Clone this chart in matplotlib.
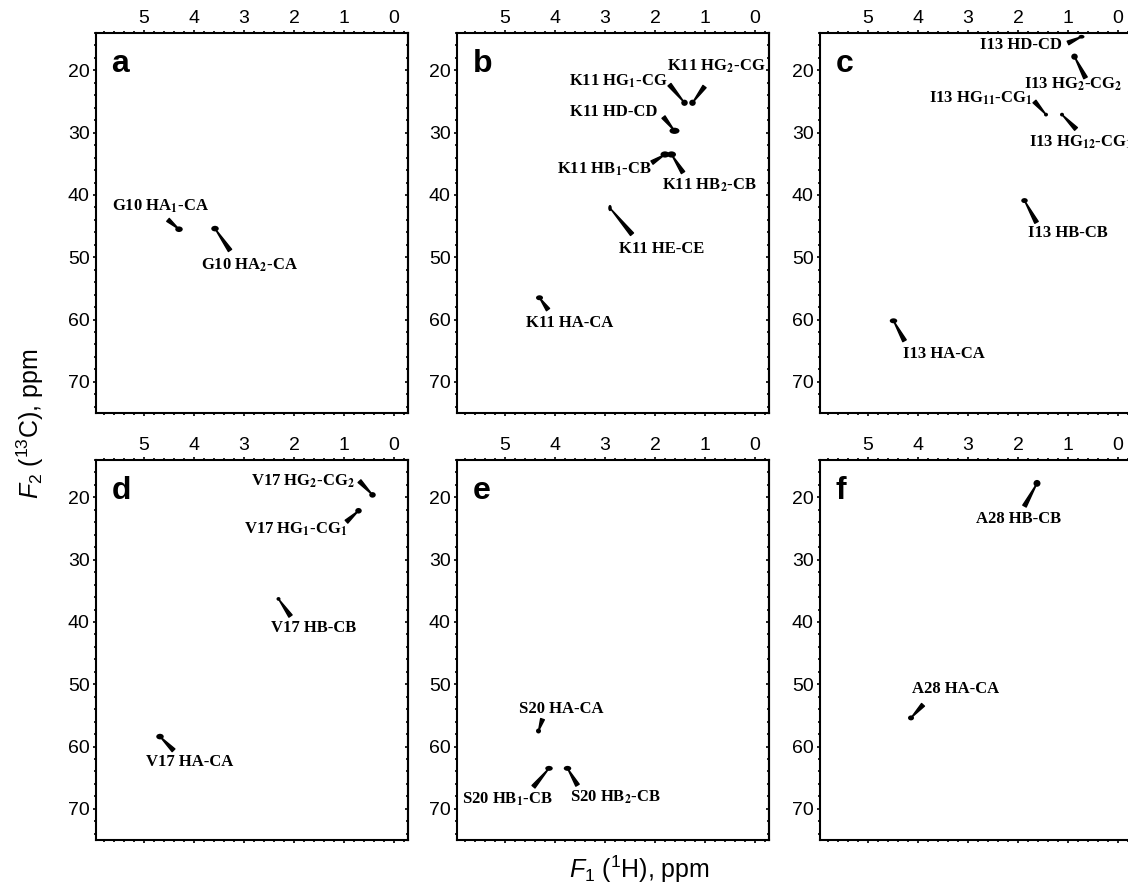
import matplotlib.pyplot as plt
from matplotlib.patches import Ellipse
from matplotlib.ticker import MultipleLocator

# Cross peaks: 1H shift (ppm), 13C shift (ppm)
G10_LABELS = [r"G10 HA$_\mathbf{1}$-CA", r"G10 HA$_\mathbf{2}$-CA"]
G10_H = [4.30, 3.58]
G10_C = [45.5, 45.4]

K11_LABELS = [r"K11 HG$_\mathbf{1}$-CG", r"K11 HG$_\mathbf{2}$-CG", "K11 HD-CD",
              r"K11 HB$_\mathbf{1}$-CB", r"K11 HB$_\mathbf{2}$-CB", "K11 HE-CE", "K11 HA-CA"]
K11_H = [1.41, 1.25, 1.61, 1.80, 1.67, 2.90, 4.31]
K11_C = [25.2, 25.2, 29.7, 33.5, 33.5, 42.1, 56.5]

I13_LABELS = ["I13 HD-CD", r"I13 HG$_\mathbf{2}$-CG$_\mathbf{2}$",
              r"I13 HG$_\mathbf{11}$-CG$_\mathbf{1}$", r"I13 HG$_\mathbf{12}$-CG$_\mathbf{1}$",
              "I13 HB-CB", "I13 HA-CA"]
I13_H = [0.73, 0.87, 1.44, 1.12, 1.87, 4.49]
I13_C = [14.6, 17.8, 27.1, 27.1, 40.9, 60.2]

V17_LABELS = [r"V17 HG$_\mathbf{2}$-CG$_\mathbf{2}$", r"V17 HG$_\mathbf{1}$-CG$_\mathbf{1}$",
              "V17 HB-CB", "V17 HA-CA"]
V17_H = [0.43, 0.71, 2.31, 4.68]
V17_C = [19.6, 22.15, 36.3, 58.4]

S20_LABELS = ["S20 HA-CA", r"S20 HB$_\mathbf{1}$-CB", r"S20 HB$_\mathbf{2}$-CB"]
S20_H = [4.33, 4.12, 3.75]
S20_C = [57.5, 63.5, 63.5]

A28_LABELS = ["A28 HB-CB", "A28 HA-CA"]
A28_H = [1.62, 4.14]
A28_C = [17.75, 55.4]

PANEL_LETTERS = ["a", "b", "c", "d", "e", "f"]

# layout: leader end points and label centres (ppm), spot sizes (ppm)
G10_LEAD = [(4.52, 44.0), (3.28, 48.9)]
G10_TEXT = [(4.68, 41.8), (2.90, 51.3)]
G10_SIZE = [(0.15, 0.9), (0.15, 0.9)]

K11_LEAD = [(1.71, 22.3), (1.01, 22.6), (1.83, 27.5), (2.06, 34.8), (1.44, 36.4),
            (2.46, 46.3), (4.14, 58.4)]
K11_TEXT = [(2.73, 21.8), (0.77, 19.4), (2.82, 26.7), (3.01, 35.9), (0.91, 38.5),
            (1.87, 48.6), (3.71, 60.5)]
K11_SIZE = [(0.13, 1.0), (0.13, 1.0), (0.2, 1.0), (0.18, 1.0), (0.18, 1.0),
            (0.07, 1.0), (0.14, 0.8)]

I13_LEAD = [(1.00, 15.6), (0.65, 21.2), (1.67, 25.0), (0.84, 29.4), (1.63, 44.4),
            (4.27, 63.4)]
I13_TEXT = [(1.94, 16.0), (0.89, 22.3), (2.75, 24.5), (0.75, 31.5), (1.01, 46.1),
            (3.49, 65.6)]
I13_SIZE = [(0.12, 0.6), (0.13, 1.0), (0.08, 0.6), (0.08, 0.6), (0.13, 0.8),
            (0.15, 0.8)]

V17_LEAD = [(0.69, 17.4), (0.95, 23.9), (2.07, 39.05), (4.41, 60.6)]
V17_TEXT = [(1.83, 17.4), (1.96, 25.1), (1.60, 41.0), (4.09, 62.5)]
V17_SIZE = [(0.13, 0.9), (0.13, 0.9), (0.08, 0.6), (0.15, 0.9)]

S20_LEAD = [(4.25, 55.6), (4.43, 66.45), (3.55, 66.2)]
S20_TEXT = [(3.88, 53.9), (4.96, 68.4), (2.79, 68.2)]
S20_SIZE = [(0.10, 0.8), (0.15, 0.8), (0.15, 0.8)]

A28_LEAD = [(1.87, 21.4), (3.90, 53.3)]
A28_TEXT = [(1.99, 23.5), (3.25, 50.7)]
A28_SIZE = [(0.14, 1.1), (0.12, 0.8)]

plt.rcParams['font.family'] = ['Liberation Sans', 'DejaVu Sans']
plt.rcParams['mathtext.fontset'] = 'custom'
plt.rcParams['mathtext.rm'] = 'Liberation Sans'
plt.rcParams['mathtext.it'] = 'Liberation Sans:italic'
plt.rcParams['mathtext.bf'] = 'Liberation Sans:bold'

W, H = 1128, 892
fig = plt.figure(figsize=(W / 100, H / 100), dpi=100)

col_left = [96, 457, 820]
row_top = [33, 460]
ax_w, ax_h = 312, 380

panels = [
    (G10_LABELS, G10_H, G10_C, G10_LEAD, G10_TEXT, G10_SIZE),
    (K11_LABELS, K11_H, K11_C, K11_LEAD, K11_TEXT, K11_SIZE),
    (I13_LABELS, I13_H, I13_C, I13_LEAD, I13_TEXT, I13_SIZE),
    (V17_LABELS, V17_H, V17_C, V17_LEAD, V17_TEXT, V17_SIZE),
    (S20_LABELS, S20_H, S20_C, S20_LEAD, S20_TEXT, S20_SIZE),
    (A28_LABELS, A28_H, A28_C, A28_LEAD, A28_TEXT, A28_SIZE),
]

for i, (labels, hs, cs, leads, texts, sizes) in enumerate(panels):
    r, c = divmod(i, 3)
    left = col_left[c] / W
    bottom = 1 - (row_top[r] + ax_h) / H
    ax = fig.add_axes([left, bottom, ax_w / W, ax_h / H])
    ax.set_xlim(5.96, -0.28)
    ax.set_ylim(75, 14)

    for lab, h, cc, lead, txt, (sw, sh) in zip(labels, hs, cs, leads, texts, sizes):
        ax.annotate('', xy=(h, cc), xytext=lead,
                    arrowprops=dict(arrowstyle='wedge,tail_width=0.28,shrink_factor=0.5',
                                    color='k', shrinkA=0, shrinkB=0, mutation_scale=10))
        ax.add_patch(Ellipse((h, cc), sw, sh, facecolor='k', edgecolor='none', zorder=3))
        ax.text(txt[0], txt[1], lab, ha='center', va='center', fontsize=12,
                fontweight='bold', family='Liberation Serif', math_fontfamily='stix',
                clip_on=False)

    ax.text(0.05, 0.898, PANEL_LETTERS[i], transform=ax.transAxes, fontsize=23,
            fontweight='bold', ha='left', va='baseline')

    ax.xaxis.set_major_locator(MultipleLocator(1))
    ax.xaxis.set_minor_locator(MultipleLocator(0.2))
    ax.yaxis.set_major_locator(MultipleLocator(10))
    ax.yaxis.set_minor_locator(MultipleLocator(2))
    ax.tick_params(which='both', direction='out', top=True, bottom=True, left=True,
                   right=False, labeltop=True, labelbottom=False, labelleft=True,
                   width=1.2, labelsize=14)
    ax.tick_params(which='major', length=2.5, pad=2)
    ax.tick_params(which='minor', length=1.6)

    # right-hand ticks point inwards
    sec = ax.secondary_yaxis('right')
    sec.yaxis.set_major_locator(MultipleLocator(10))
    sec.yaxis.set_minor_locator(MultipleLocator(2))
    sec.tick_params(which='both', direction='in', labelright=False, width=1.2)
    sec.tick_params(which='major', length=2.5)
    sec.tick_params(which='minor', length=1.6)
    sec.spines['right'].set_linewidth(1.5)

    for sp in ax.spines.values():
        sp.set_linewidth(1.5)

fig.text(0.027, 0.525, r'$F_2$ ($^{13}$C), ppm', rotation=90, ha='center', va='center',
         fontsize=18)
fig.text(0.567, 0.025, r'$F_1$ ($^{1}$H), ppm', ha='center', va='center', fontsize=18)

fig.savefig('out.png', dpi=100)
